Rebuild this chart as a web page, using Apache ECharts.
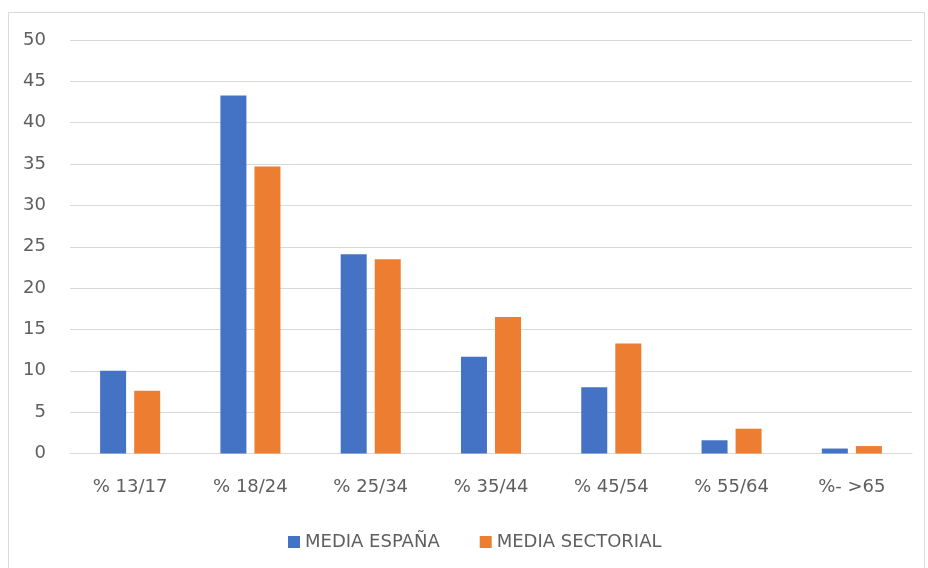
<!DOCTYPE html>
<html>
<head>
<meta charset="utf-8">
<script src="https://cdn.jsdelivr.net/npm/echarts@6/dist/echarts.min.js"></script>
<style>
  html, body { margin: 0; padding: 0; background: #fff; }
  #chart { width: 928px; height: 568px; }
</style>
</head>
<body>
<div id="chart"></div>
<script>
// Age brackets and average share per bracket (%)
const categories = ['% 13/17', '% 18/24', '% 25/34', '% 35/44', '% 45/54', '% 55/64', '%- >65'];
const mediaEspana = [10.0, 43.3, 24.1, 11.7, 8.0, 1.6, 0.6];
const mediaSectorial = [7.6, 34.7, 23.5, 16.5, 13.3, 3.0, 0.9];
const seriesNames = ['MEDIA ESPAÑA', 'MEDIA SECTORIAL'];

const textColor = '#5f5f5f';
const fontFamily = '"DejaVu Sans", "Open Sans", sans-serif';

const chart = echarts.init(document.getElementById('chart'));
chart.setOption({
  animation: false,
  textStyle: { fontFamily: fontFamily },
  graphic: [{
    type: 'rect',
    shape: { x: 8.5, y: 12.5, width: 916, height: 570 },
    style: { fill: 'none', stroke: '#d9d9d9', lineWidth: 1 },
    silent: true
  }],
  grid: { left: 70, right: 16, top: 40, bottom: 114.5, containLabel: false },
  legend: {
    top: 528,
    left: 283,
    itemWidth: 12,
    itemHeight: 12,
    itemGap: 40,
    icon: 'rect',
    textStyle: { color: textColor, fontSize: 18, fontFamily: fontFamily },
    data: seriesNames
  },
  xAxis: {
    type: 'category',
    data: categories,
    axisLine: { lineStyle: { color: '#d9d9d9', width: 1 } },
    axisTick: { show: false },
    axisLabel: { color: textColor, fontSize: 18, margin: 25 }
  },
  yAxis: {
    type: 'value',
    min: 0,
    max: 50,
    interval: 5,
    axisLine: { show: false },
    axisTick: { show: false },
    axisLabel: { color: textColor, fontSize: 18, margin: 24 },
    splitLine: { lineStyle: { color: '#d9d9d9', width: 1 } }
  },
  series: [
    {
      name: seriesNames[0],
      type: 'bar',
      data: mediaEspana,
      barWidth: 26,
      barGap: '31%',
      itemStyle: { color: '#4472C4' }
    },
    {
      name: seriesNames[1],
      type: 'bar',
      data: mediaSectorial,
      barWidth: 26,
      barGap: '31%',
      itemStyle: { color: '#ED7D31' }
    }
  ]
});
</script>
</body>
</html>
